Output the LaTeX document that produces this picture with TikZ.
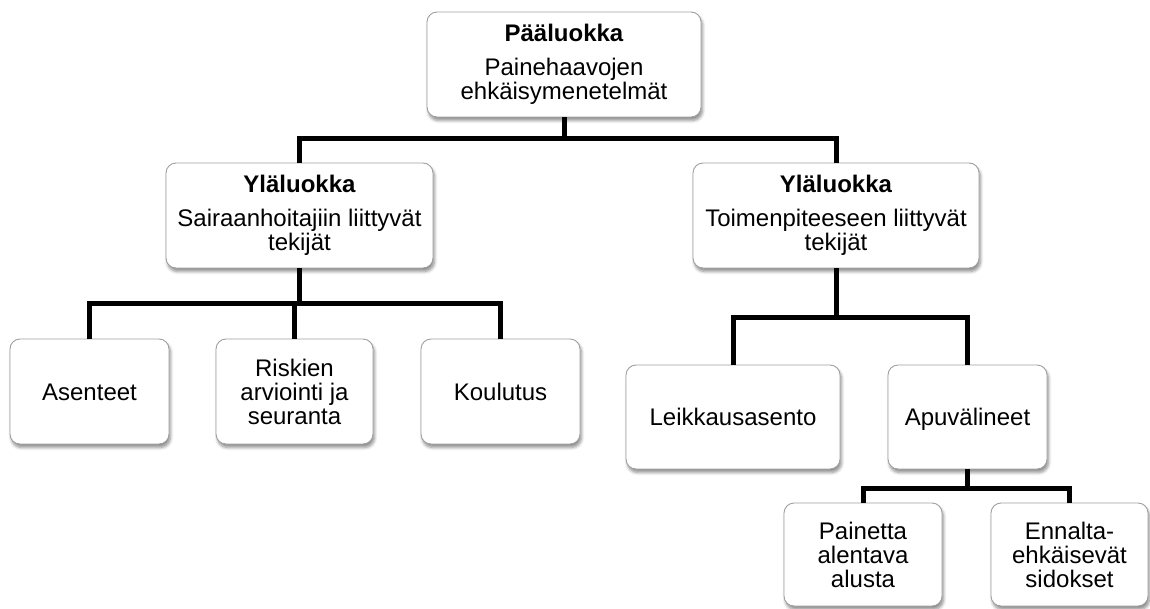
\documentclass[tikz,border=0pt]{standalone}
\usepackage{fontspec}
\setmainfont{Liberation Sans}
\usetikzlibrary{shadows.blur}
\begin{document}
\begin{tikzpicture}[x=1pt,y=-1pt,
  box/.style={draw=gray!75, line width=0.9pt, fill=white, rounded corners=10pt,
    align=center, inner sep=0pt, font=\fontsize{24}{24}\selectfont,
    blur shadow={shadow xshift=1.5pt, shadow yshift=-3.5pt, shadow blur steps=6, shadow opacity=45, shadow blur radius=3pt}},
  oneline/.style={text height=17.2pt, text depth=0pt},
  conn/.style={line width=5pt, line join=miter, black}]
\useasboundingbox (0,0) rectangle (1150,608);
% nodes
\node[box, minimum width=274pt, minimum height=105pt] (top) at (564,64.5)
  {\textbf{Pääluokka}\\[10pt]Painehaavojen\\ehkäisymenetelmät};
\node[box, minimum width=267pt, minimum height=105pt] (l1) at (299.5,215.5)
  {\textbf{Yläluokka}\\[10pt]Sairaanhoitajiin liittyvät\\tekijät};
\node[box, minimum width=286pt, minimum height=105pt] (r1) at (836,215.5)
  {\textbf{Yläluokka}\\[10pt]Toimenpiteeseen liittyvät\\tekijät};
\node[box, oneline, minimum width=159pt, minimum height=105pt] (a) at (89.5,391.5) {Asenteet};
\node[box, minimum width=157pt, minimum height=105pt] (b) at (294.5,391.5) {Riskien\\arviointi ja\\seuranta};
\node[box, oneline, minimum width=159pt, minimum height=105pt] (c) at (500.5,391.5) {Koulutus};
\node[box, oneline, minimum width=214pt, minimum height=104pt] (d) at (733,417) {Leikkausasento};
\node[box, oneline, minimum width=159pt, minimum height=104pt] (e) at (967.5,417) {Apuvälineet};
\node[box, minimum width=158pt, minimum height=103pt] (f) at (863,554.5) {Painetta\\alentava\\alusta};
\node[box, minimum width=157pt, minimum height=103pt] (g) at (1069.5,554.5) {Ennalta-\\ehkäisevät\\sidokset};
% bus levels
\coordinate (bus0) at (0,138);
\coordinate (busl) at (0,303);
\coordinate (busr) at (0,317);
\coordinate (buse) at (0,488);
% connectors
\draw[conn] (top.south) -- (top.south |- bus0) -| (l1.north);
\draw[conn] (top.south |- bus0) -| (r1.north);
\draw[conn] (l1.south) -- (l1.south |- busl) -| (a.north);
\draw[conn] (l1.south |- busl) -| (b.north);
\draw[conn] (l1.south |- busl) -| (c.north);
\draw[conn] (r1.south) -- (r1.south |- busr) -| (d.north);
\draw[conn] (r1.south |- busr) -| (e.north);
\draw[conn] (e.south) -- (e.south |- buse) -| (f.north);
\draw[conn] (e.south |- buse) -| (g.north);
\end{tikzpicture}
\end{document}
